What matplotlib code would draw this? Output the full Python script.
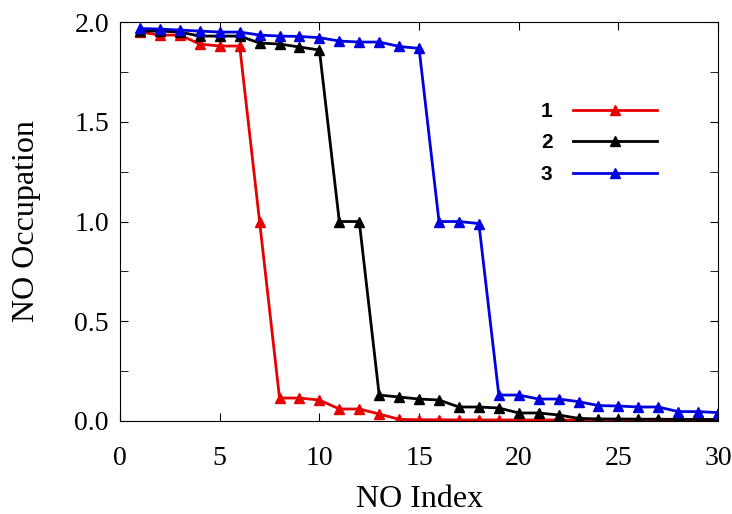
import matplotlib
matplotlib.use("Agg")
import matplotlib.pyplot as plt
from matplotlib.ticker import MultipleLocator

idx = list(range(1, 31))
occ1 = [1.95, 1.935, 1.935, 1.89, 1.88, 1.88, 1.00, 0.115, 0.115, 0.105, 0.06, 0.06, 0.035, 0.008,
        0.006, 0.006, 0.005, 0.005, 0.005, 0.005, 0.005, 0.005, 0.004, 0.004, 0.004, 0.004, 0.004,
        0.004, 0.004, 0.004]
occ2 = [1.955, 1.955, 1.95, 1.93, 1.93, 1.93, 1.895, 1.89, 1.875, 1.86, 1.00, 1.00, 0.13, 0.12,
        0.11, 0.105, 0.07, 0.07, 0.065, 0.04, 0.04, 0.03, 0.013, 0.01, 0.01, 0.009, 0.009, 0.008,
        0.008, 0.007]
occ3 = [1.968, 1.965, 1.96, 1.955, 1.95, 1.95, 1.935, 1.93, 1.928, 1.922, 1.905, 1.90, 1.90, 1.878,
        1.868, 1.00, 1.00, 0.99, 0.13, 0.13, 0.11, 0.11, 0.097, 0.077, 0.075, 0.07, 0.07, 0.047,
        0.047, 0.042]
labels = ["1", "2", "3"]
colors = ["#e80000", "#000000", "#0000e0"]

fig = plt.figure(figsize=(7.32, 5.14), dpi=100)
ax = fig.add_axes([0.164, 0.181, 0.817, 0.776])

for y, lab, c in zip([occ1, occ2, occ3], labels, colors):
    ax.plot(idx, y, color=c, lw=2, marker="^", ms=7.5, label=lab)

ax.set_xlim(0, 30)
ax.set_ylim(0, 2.0)
ax.xaxis.set_major_locator(MultipleLocator(5))
ax.yaxis.set_major_locator(MultipleLocator(0.5))
ax.yaxis.set_minor_locator(MultipleLocator(0.25))
ax.tick_params(which="both", direction="in", top=True, right=True, labelsize=20, length=6)
ax.tick_params(axis="x", pad=18)
ax.tick_params(axis="y", pad=8)
ax.set_yticklabels([f"{v:.1f}" for v in ax.get_yticks()])
for lab in ax.get_xticklabels() + ax.get_yticklabels():
    lab.set_fontfamily("Liberation Serif")
ax.set_xlabel("NO Index", fontsize=23, fontfamily="Liberation Serif", labelpad=10)
ax.set_ylabel("NO Occupation", fontsize=23, fontfamily="Liberation Serif", labelpad=24)

leg = ax.legend(loc="center", bbox_to_anchor=(0.818, 0.722), bbox_transform=fig.transFigure,
                frameon=False, markerfirst=False, handlelength=4.0, handletextpad=1.0,
                labelspacing=0.6, prop={"family": "Liberation Sans", "weight": "bold", "size": 15})

fig.savefig("out.png", dpi=100)
